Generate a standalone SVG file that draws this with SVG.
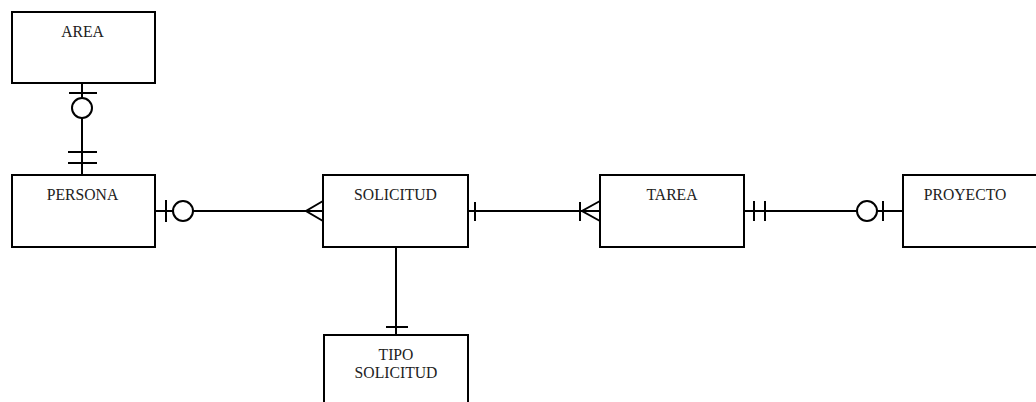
<svg xmlns="http://www.w3.org/2000/svg" width="1036" height="402" viewBox="0 0 1036 402">
<style>
.box{fill:#fff;stroke:#000;stroke-width:2}
.lbl{font-family:"Liberation Serif","Times New Roman",serif;font-size:15.7px;fill:#222;text-anchor:middle}
.ln{stroke:#000;stroke-width:2;fill:none}
.circ{stroke:#000;stroke-width:2;fill:#fff}
</style>
<rect width="1036" height="402" fill="#fff"/>
<g id="connectors">
  <!-- AREA - PERSONA -->
  <line class="ln" x1="82" y1="83" x2="82" y2="174"/>
  <line class="ln" x1="69" y1="93" x2="97" y2="93"/>
  <circle class="circ" cx="82" cy="108" r="10"/>
  <line class="ln" x1="68" y1="152" x2="97" y2="152"/>
  <line class="ln" x1="68" y1="163" x2="97" y2="163"/>
  <!-- PERSONA - SOLICITUD -->
  <line class="ln" x1="155" y1="211" x2="323" y2="211"/>
  <line class="ln" x1="166" y1="200" x2="166" y2="222"/>
  <circle class="circ" cx="183" cy="211" r="10"/>
  <polyline class="ln" points="323,201 306,211 323,221"/>
  <!-- SOLICITUD - TAREA -->
  <line class="ln" x1="468" y1="211" x2="600" y2="211"/>
  <line class="ln" x1="475" y1="202" x2="475" y2="221"/>
  <line class="ln" x1="580" y1="202" x2="580" y2="221"/>
  <polyline class="ln" points="600,201 582,211 600,221"/>
  <!-- TAREA - PROYECTO -->
  <line class="ln" x1="744" y1="211" x2="903" y2="211"/>
  <line class="ln" x1="754" y1="201" x2="754" y2="221"/>
  <line class="ln" x1="765" y1="201" x2="765" y2="221"/>
  <circle class="circ" cx="867" cy="211" r="10"/>
  <line class="ln" x1="883" y1="201" x2="883" y2="221"/>
  <!-- SOLICITUD - TIPO SOLICITUD -->
  <line class="ln" x1="396" y1="247" x2="396" y2="335"/>
  <line class="ln" x1="386" y1="327" x2="408" y2="327"/>
</g>
<g id="area">
  <rect class="box" x="12" y="12" width="143" height="71"/>
  <text class="lbl" x="82.5" y="37">AREA</text>
</g>
<g id="persona">
  <rect class="box" x="12" y="175" width="143" height="72"/>
  <text class="lbl" x="82.5" y="200">PERSONA</text>
</g>
<g id="solicitud">
  <rect class="box" x="323" y="175" width="145" height="72"/>
  <text class="lbl" x="395.5" y="200">SOLICITUD</text>
</g>
<g id="tarea">
  <rect class="box" x="600" y="175" width="144" height="72"/>
  <text class="lbl" x="672" y="200">TAREA</text>
</g>
<g id="proyecto">
  <rect class="box" x="903" y="175" width="143" height="72"/>
  <text class="lbl" x="965" y="200">PROYECTO</text>
</g>
<g id="tipo-solicitud">
  <rect class="box" x="324" y="335" width="144" height="80"/>
  <text class="lbl" x="396" y="360">TIPO</text>
  <text class="lbl" x="396" y="378">SOLICITUD</text>
</g>
</svg>
